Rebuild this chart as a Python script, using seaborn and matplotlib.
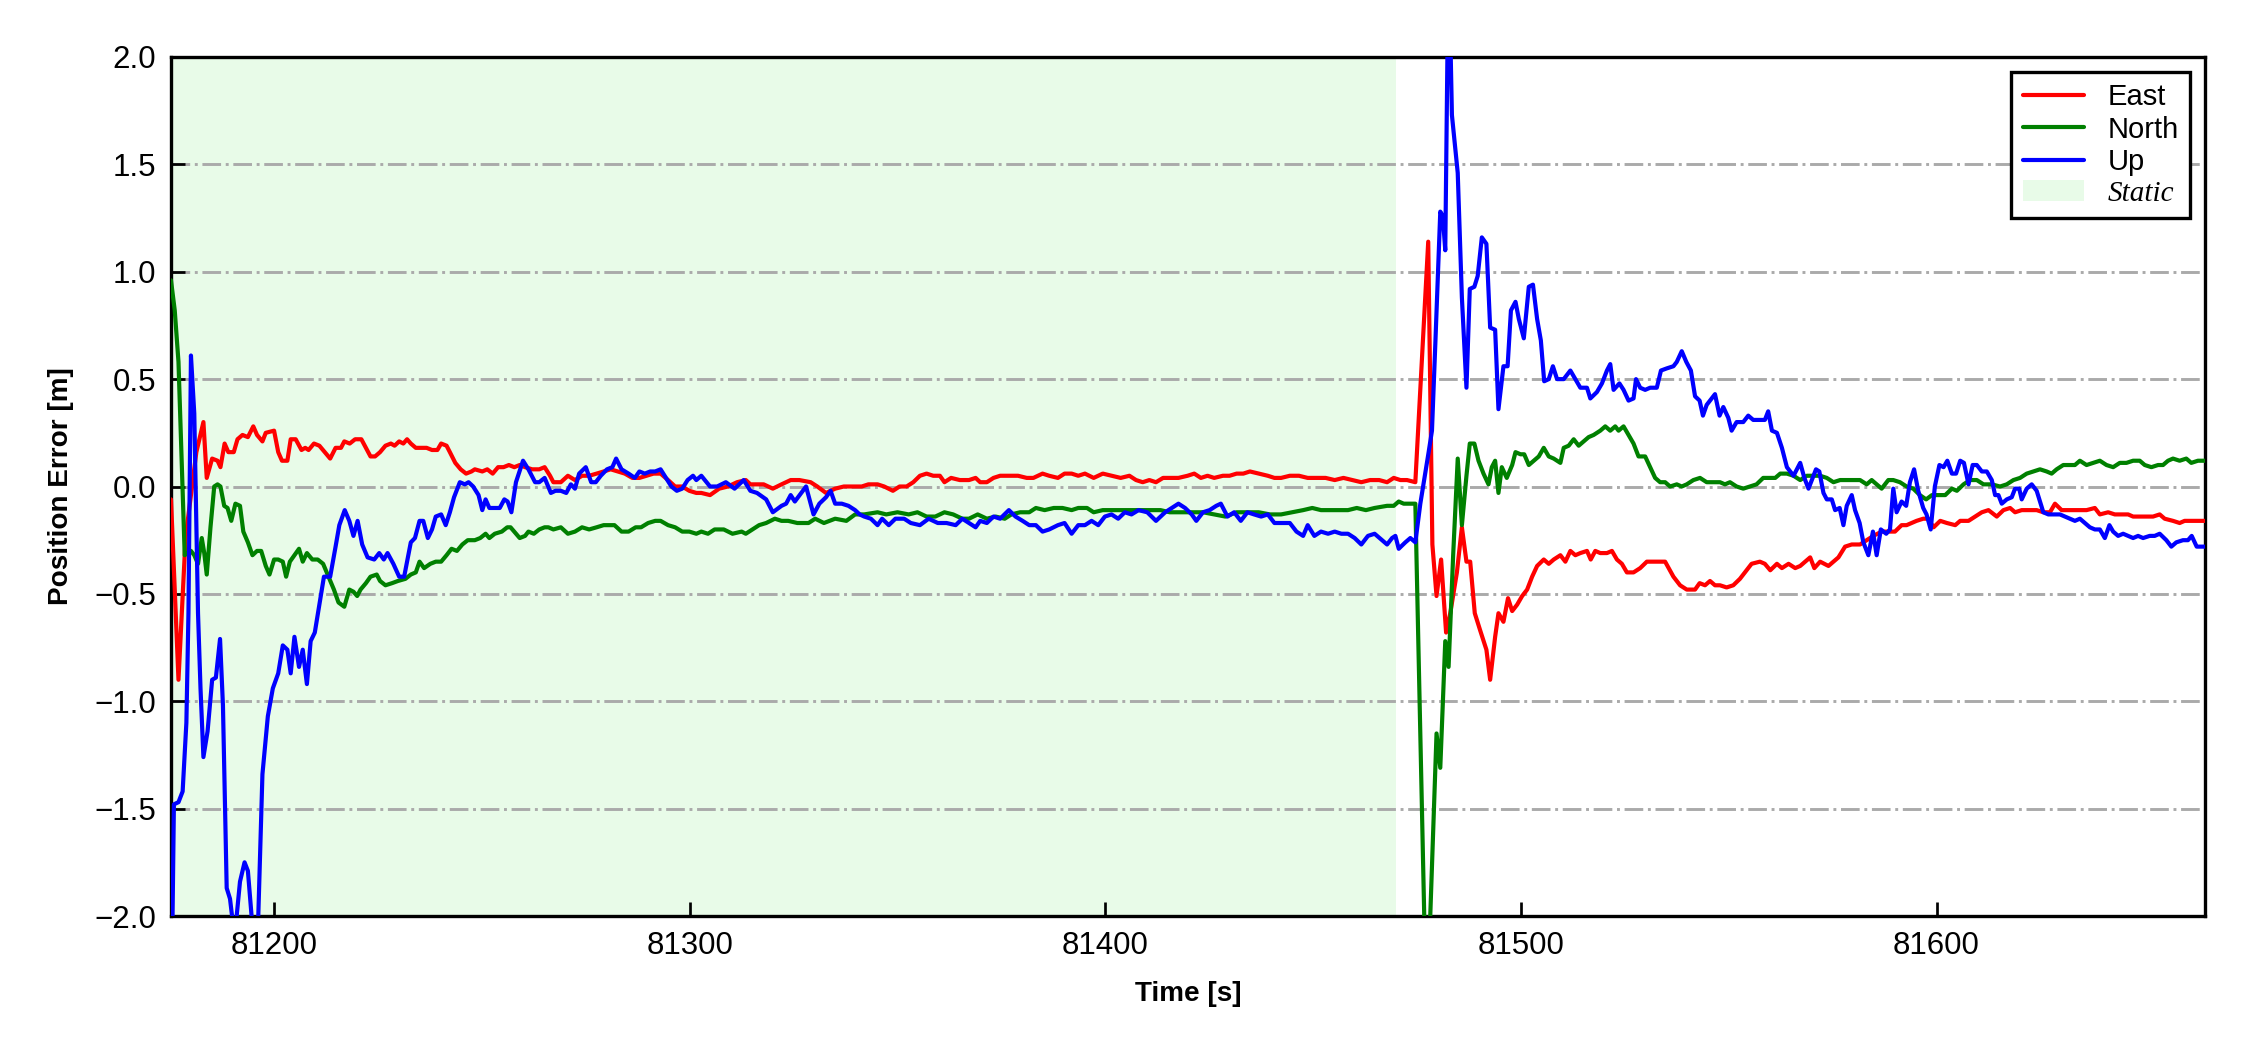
import matplotlib
matplotlib.use("Agg")
import matplotlib.pyplot as plt
import pandas as pd
import seaborn as sns
from matplotlib.lines import Line2D
from matplotlib.patches import Patch

# ---------------- data (time [s], position error [m]) ----------------
east_pts = [
    (81175.2,-0.06),(81177.0,-0.90),(81178.7,-0.24),(81181.3,0.16),(81183.0,0.30),(81183.8,0.04),(81185.1,0.13),
    (81186.4,0.12),(81187.1,0.09),(81188.1,0.20),(81189.0,0.16),(81190.3,0.16),(81191.2,0.22),(81192.4,0.24),
    (81193.7,0.23),(81195.0,0.28),(81195.9,0.24),(81197.2,0.21),(81198.0,0.25),(81200.0,0.26),(81201.0,0.16),
    (81201.9,0.12),(81203.2,0.12),(81204.0,0.22),(81205.2,0.22),(81206.6,0.17),(81207.5,0.18),(81208.3,0.17),
    (81209.6,0.20),(81210.9,0.19),(81212.2,0.16),(81213.5,0.13),(81214.8,0.18),(81216.1,0.18),(81216.9,0.21),
    (81218.2,0.20),(81219.5,0.22),(81221.0,0.22),(81222.1,0.18),(81223.2,0.14),(81224.3,0.14),(81225.5,0.16),
    (81226.8,0.19),(81228.1,0.20),(81229.0,0.19),(81230.1,0.21),(81231.1,0.20),(81232.0,0.22),(81232.9,0.20),
    (81234.1,0.18),(81235.4,0.18),(81236.7,0.18),(81238.0,0.17),(81239.3,0.17),(81240.2,0.20),(81241.5,0.19),
    (81242.3,0.16),(81243.6,0.11),(81244.9,0.08),(81246.2,0.06),(81247.5,0.07),(81248.3,0.08),(81250.1,0.07),
    (81251.3,0.08),(81252.6,0.06),(81253.9,0.09),(81255.2,0.09),(81256.5,0.10),(81257.8,0.09),(81259.1,0.10),
    (81260.4,0.09),(81262.1,0.08),(81263.8,0.08),(81265.1,0.09),(81266.4,0.05),(81267.2,0.02),(81269.0,0.02),
    (81270.7,0.05),(81272.4,0.03),(81274.1,0.05),(81275.8,0.05),(81277.6,0.06),(81279.3,0.07),(81281.0,0.08),
    (81282.7,0.07),(81284.4,0.06),(81286.2,0.04),(81287.9,0.04),(81289.6,0.05),(81291.3,0.06),(81293.0,0.06),
    (81294.8,0.03),(81296.5,0.00),(81298.2,0.00),(81299.9,-0.02),(81301.6,-0.03),
    (81302.8,-0.03),(81304.9,-0.04),(81307.1,-0.01),(81309.2,0.00),(81311.4,0.02),(81313.5,0.03),(81314.6,0.01),
    (81317.8,0.01),(81320.0,-0.01),(81322.1,0.01),(81324.3,0.03),(81326.4,0.03),(81329.1,0.02),(81330.7,0.00),
    (81332.8,-0.03),(81335.0,-0.01),(81337.1,0.00),(81339.3,0.00),(81341.4,0.00),(81343.0,0.01),(81345.2,0.01),
    (81346.8,0.00),(81348.9,-0.02),(81350.5,0.00),(81352.2,0.00),(81353.8,0.02),(81355.4,0.05),(81357.0,0.06),
    (81358.6,0.05),(81360.2,0.05),(81361.3,0.02),(81362.9,0.04),(81365.0,0.03),(81367.2,0.03),(81368.8,0.04),
    (81369.9,0.02),(81371.5,0.02),(81373.1,0.04),(81374.7,0.05),(81376.8,0.05),(81379.0,0.05),(81381.1,0.04),
    (81382.7,0.04),(81384.9,0.06),(81386.5,0.05),(81388.6,0.04),(81390.2,0.06),(81391.9,0.06),(81393.5,0.05),
    (81395.1,0.06),(81397.2,0.04),(81399.4,0.06),(81401.5,0.05),(81403.7,0.04),(81405.8,0.05),(81407.4,0.03),
    (81409.0,0.02),(81410.6,0.03),(81412.2,0.02),(81413.9,0.04),(81415.5,0.04),(81417.6,0.04),(81419.8,0.05),
    (81421.4,0.06),(81423.0,0.04),(81424.6,0.05),(81426.2,0.04),(81428.3,0.05),(81429.9,0.05),(81431.6,0.06),
    (81433.2,0.06),(81434.8,0.07),(81436.9,0.06),(81439.1,0.05),(81440.7,0.04),(81442.3,0.04),(81444.4,0.05),
    (81446.6,0.05),(81448.7,0.04),(81450.9,0.04),(81453.0,0.04),(81455.2,0.03),(81457.3,0.04),(81459.5,0.03),
    (81461.6,0.02),(81463.7,0.03),(81465.9,0.03),
    (81467.8,0.02),(81469.4,0.04),(81471.0,0.03),(81472.6,0.03),(81474.6,0.02),(81477.7,1.14),(81478.7,-0.27),
    (81479.7,-0.51),(81480.8,-0.34),(81482.0,-0.68),(81483.0,-0.59),(81484.6,-0.40),(81485.8,-0.19),(81486.9,-0.35),
    (81487.8,-0.35),(81488.9,-0.59),(81490.2,-0.67),(81491.7,-0.76),(81492.6,-0.90),(81493.8,-0.70),(81494.6,-0.59),
    (81495.8,-0.63),(81496.9,-0.52),(81497.9,-0.58),(81499.1,-0.55),(81500.3,-0.51),(81501.5,-0.48),(81502.7,-0.42),
    (81503.9,-0.37),(81505.5,-0.34),(81506.7,-0.36),(81507.9,-0.34),(81509.5,-0.32),(81510.7,-0.35),(81511.9,-0.30),
    (81513.1,-0.32),(81514.3,-0.31),(81515.9,-0.30),(81516.8,-0.34),(81517.9,-0.30),(81519.1,-0.31),(81520.7,-0.31),
    (81521.9,-0.30),(81523.1,-0.34),(81524.3,-0.36),(81525.5,-0.40),(81527.1,-0.40),(81528.7,-0.38),(81530.3,-0.35),
    (81531.9,-0.35),(81534.7,-0.35),(81536.7,-0.42),(81538.3,-0.46),(81539.9,-0.48),(81541.9,-0.48),(81543.0,-0.45),
    (81544.3,-0.46),(81545.5,-0.44),(81546.7,-0.46),(81547.9,-0.46),(81549.5,-0.47),(81551.1,-0.46),(81552.7,-0.43),
    (81554.3,-0.39),(81555.5,-0.36),(81557.5,-0.35),(81558.7,-0.36),(81560.0,-0.39),(81561.6,-0.36),(81562.8,-0.38),
    (81564.4,-0.36),(81566.0,-0.38),
    (81567.2,-0.37),(81569.6,-0.33),(81570.6,-0.38),(81572.0,-0.35),(81574.0,-0.37),(81575.2,-0.35),(81576.4,-0.33),
    (81578.0,-0.28),(81579.6,-0.27),(81581.6,-0.27),(81583.2,-0.25),(81584.8,-0.23),(81586.8,-0.21),(81588.4,-0.21),
    (81590.0,-0.21),(81591.6,-0.18),(81592.8,-0.18),(81594.0,-0.17),(81595.2,-0.16),(81596.8,-0.15),(81598.0,-0.15),
    (81599.3,-0.19),(81600.9,-0.16),(81602.5,-0.17),(81604.5,-0.18),(81605.7,-0.16),(81607.7,-0.16),(81609.3,-0.14),
    (81610.9,-0.12),(81612.5,-0.11),(81614.5,-0.14),(81616.1,-0.11),(81617.7,-0.10),(81618.9,-0.12),(81620.5,-0.11),
    (81622.1,-0.11),(81624.1,-0.11),(81625.7,-0.12),(81627.3,-0.12),(81628.5,-0.08),(81630.1,-0.11),(81632.1,-0.11),
    (81634.1,-0.11),(81636.1,-0.11),(81638.1,-0.10),(81639.3,-0.13),(81641.3,-0.12),(81642.9,-0.13),(81644.5,-0.13),
    (81646.1,-0.13),(81647.3,-0.14),(81648.9,-0.14),(81650.5,-0.14),(81652.1,-0.14),(81653.7,-0.13),(81654.9,-0.15),
    (81656.9,-0.16),(81658.5,-0.17),(81659.7,-0.16),(81661.8,-0.16),(81663.0,-0.16),(81664.6,-0.16),
]

north_pts = [
    (81175.2,0.96),(81176.1,0.82),(81177.0,0.58),(81177.8,0.10),(81178.5,-0.32),(81179.1,-0.31),(81180.0,-0.30),
    (81180.8,-0.32),(81181.7,-0.36),(81182.6,-0.24),(81183.2,-0.31),(81183.8,-0.41),(81184.7,-0.19),(81185.6,0.00),
    (81186.4,0.01),(81187.1,0.00),(81188.0,-0.09),(81188.8,-0.10),(81189.7,-0.16),(81190.7,-0.08),(81191.8,-0.09),
    (81192.6,-0.21),(81193.7,-0.26),(81194.8,-0.32),(81195.9,-0.30),(81196.9,-0.30),(81198.0,-0.37),(81198.9,-0.41),
    (81200.0,-0.34),(81201.0,-0.34),(81202.1,-0.35),(81202.9,-0.42),(81203.8,-0.35),(81204.9,-0.32),(81206.0,-0.29),
    (81206.9,-0.35),(81207.9,-0.31),(81209.2,-0.34),(81210.5,-0.34),(81211.8,-0.36),(81213.1,-0.42),(81214.4,-0.48),
    (81215.5,-0.54),(81216.9,-0.56),(81218.1,-0.48),(81219.1,-0.49),(81220.0,-0.51),(81220.8,-0.48),(81222.1,-0.45),
    (81223.2,-0.42),(81224.7,-0.41),(81225.5,-0.44),(81226.8,-0.46),(81228.4,-0.45),(81229.8,-0.44),(81231.6,-0.43),
    (81232.9,-0.41),(81234.1,-0.40),(81235.0,-0.35),(81236.1,-0.38),(81237.6,-0.36),(81238.9,-0.35),(81240.2,-0.35),
    (81241.5,-0.32),(81242.7,-0.29),(81244.0,-0.30),(81245.3,-0.27),(81246.6,-0.25),(81248.3,-0.25),(81249.6,-0.24),
    (81250.9,-0.22),(81251.8,-0.24),(81253.1,-0.22),(81254.8,-0.21),(81256.1,-0.19),(81256.9,-0.19),(81258.2,-0.22),
    (81259.1,-0.24),(81260.4,-0.23),(81261.2,-0.21),(81262.5,-0.22),(81263.8,-0.20),(81265.1,-0.19),(81266.0,-0.19),
    (81267.2,-0.20),(81269.0,-0.19),(81270.7,-0.22),(81272.4,-0.21),(81274.1,-0.19),(81275.8,-0.20),(81277.6,-0.19),
    (81279.3,-0.18),(81280.6,-0.18),(81281.9,-0.18),(81283.6,-0.21),(81285.3,-0.21),(81287.0,-0.19),(81288.3,-0.19),
    (81290.0,-0.17),(81291.7,-0.16),(81293.0,-0.16),(81294.8,-0.18),(81296.5,-0.19),(81298.2,-0.21),(81299.9,-0.21),
    (81301.6,-0.22),
    (81302.8,-0.21),(81304.4,-0.22),(81306.0,-0.20),(81308.2,-0.20),(81310.3,-0.22),(81312.5,-0.21),(81313.5,-0.22),
    (81315.1,-0.20),(81316.7,-0.18),(81318.4,-0.17),(81320.5,-0.15),(81322.1,-0.16),(81323.7,-0.16),(81325.9,-0.17),
    (81328.6,-0.17),(81330.2,-0.15),(81332.3,-0.17),(81335.0,-0.15),(81337.7,-0.16),(81339.8,-0.13),(81342.0,-0.13),
    (81345.2,-0.12),(81347.3,-0.13),(81350.0,-0.12),(81352.7,-0.13),(81354.8,-0.12),(81357.0,-0.14),(81359.1,-0.14),
    (81361.3,-0.12),(81363.4,-0.13),(81365.6,-0.15),(81367.2,-0.15),(81369.3,-0.13),(81371.5,-0.15),(81373.6,-0.14),
    (81375.8,-0.15),(81377.4,-0.13),(81379.5,-0.12),(81381.7,-0.12),(81383.3,-0.10),(81385.4,-0.11),(81387.6,-0.10),
    (81389.7,-0.10),(81391.9,-0.11),(81393.5,-0.10),(81395.6,-0.10),(81397.2,-0.12),(81399.4,-0.11),(81401.5,-0.11),
    (81404.2,-0.11),(81406.3,-0.11),(81409.0,-0.11),(81411.2,-0.11),(81413.3,-0.11),(81415.5,-0.12),(81418.1,-0.12),
    (81420.8,-0.12),(81423.5,-0.12),(81426.2,-0.13),(81428.9,-0.14),(81431.6,-0.12),(81434.2,-0.12),(81436.9,-0.12),
    (81439.6,-0.13),(81442.3,-0.13),(81445.0,-0.12),(81447.6,-0.11),(81449.8,-0.10),(81451.9,-0.11),(81454.1,-0.11),
    (81456.2,-0.11),(81458.4,-0.11),(81460.5,-0.10),(81462.7,-0.11),(81464.8,-0.10),
    (81467.8,-0.09),(81469.4,-0.09),(81470.6,-0.07),(81471.8,-0.08),(81474.6,-0.08),(81477.3,-2.50),(81479.7,-1.15),
    (81480.6,-1.31),(81481.8,-0.72),(81482.6,-0.84),(81483.7,-0.32),(81484.8,0.13),(81485.8,-0.18),(81486.9,0.05),
    (81487.7,0.20),(81488.8,0.20),(81489.8,0.12),(81491.0,0.06),(81492.2,0.01),(81493.0,0.09),(81493.8,0.12),
    (81494.6,-0.03),(81495.4,0.09),(81496.6,0.04),(81497.9,0.10),(81498.7,0.16),(81499.9,0.15),(81500.8,0.15),
    (81501.9,0.10),(81503.1,0.12),(81504.3,0.14),(81505.5,0.18),(81506.7,0.14),(81507.9,0.13),(81509.5,0.11),
    (81510.3,0.18),(81511.5,0.19),(81512.7,0.22),(81513.9,0.19),(81515.1,0.21),(81516.3,0.23),(81517.5,0.24),
    (81519.1,0.26),(81520.3,0.28),(81521.5,0.26),(81522.7,0.28),(81523.5,0.26),(81524.7,0.28),(81525.9,0.24),
    (81527.1,0.20),(81528.3,0.14),(81529.9,0.14),(81531.1,0.09),(81532.3,0.04),(81533.5,0.02),(81534.7,0.02),
    (81535.9,0.00),(81537.5,0.01),(81538.7,0.00),(81539.9,0.01),(81541.5,0.03),(81543.1,0.04),(81544.7,0.02),
    (81546.3,0.02),(81547.9,0.02),(81549.1,0.01),(81550.3,0.02),(81551.9,0.00),(81553.5,-0.01),(81555.1,0.00),
    (81556.7,0.01),(81558.3,0.04),(81560.0,0.04),(81561.2,0.04),(81562.4,0.06),(81564.0,0.06),(81565.6,0.05),
    (81567.2,0.03),(81568.8,0.05),(81570.4,0.05),(81572.0,0.05),(81573.6,0.04),(81575.2,0.02),(81576.8,0.03),
    (81578.4,0.03),(81580.0,0.03),(81581.6,0.03),(81583.2,0.01),(81584.4,0.03),(81585.6,0.01),(81586.8,-0.01),
    (81588.4,0.03),(81589.6,0.03),(81591.2,0.02),(81592.8,0.00),(81594.4,-0.01),(81596.0,-0.04),(81597.5,-0.06),
    (81598.9,-0.04),(81600.5,-0.04),(81602.1,-0.04),(81603.7,-0.01),(81604.9,-0.02),(81606.5,0.01),(81608.1,0.03),
    (81609.7,0.03),(81611.3,0.01),(81613.3,0.01),(81615.3,0.00),(81616.9,0.01),(81618.5,0.03),(81620.1,0.04),
    (81621.7,0.06),(81623.3,0.07),(81624.9,0.08),(81626.5,0.07),(81627.7,0.06),(81628.9,0.08),(81630.5,0.10),
    (81632.1,0.10),(81633.3,0.10),(81634.5,0.12),(81636.1,0.10),(81637.7,0.11),(81639.3,0.12),(81640.9,0.10),
    (81642.5,0.09),(81644.1,0.11),(81645.7,0.11),(81647.3,0.12),(81648.9,0.12),(81650.1,0.10),(81651.7,0.09),
    (81653.3,0.10),(81654.5,0.10),(81655.7,0.12),(81656.9,0.13),(81658.5,0.12),(81660.1,0.13),(81661.3,0.11),
    (81662.9,0.12),(81664.6,0.12),
]

up_pts = [
    (81175.2,-2.60),(81175.9,-1.48),(81177.0,-1.47),(81178.0,-1.42),(81178.9,-1.10),(81179.4,-0.59),(81180.0,0.61),
    (81180.8,0.34),(81181.7,-0.59),(81182.3,-0.94),(81183.0,-1.26),(81184.0,-1.14),(81185.1,-0.90),(81186.0,-0.89),
    (81187.0,-0.71),(81187.7,-1.02),(81188.6,-1.87),(81189.4,-1.92),(81190.5,-2.10),(81191.8,-1.84),(81192.9,-1.75),
    (81193.7,-1.79),(81194.8,-2.05),(81195.9,-2.20),(81197.2,-1.34),(81198.5,-1.07),(81199.7,-0.94),(81201.0,-0.87),
    (81202.1,-0.74),(81203.2,-0.76),(81204.0,-0.87),(81204.9,-0.70),(81206.0,-0.84),(81206.9,-0.76),(81207.9,-0.92),
    (81208.8,-0.72),(81209.8,-0.68),(81210.9,-0.55),(81212.0,-0.42),(81213.5,-0.42),(81214.8,-0.28),(81215.7,-0.18),
    (81217.0,-0.11),(81218.1,-0.16),(81219.1,-0.23),(81220.1,-0.16),(81221.2,-0.27),(81222.5,-0.33),(81224.1,-0.34),
    (81225.3,-0.31),(81226.4,-0.34),(81227.3,-0.31),(81228.7,-0.36),(81230.1,-0.42),(81231.3,-0.42),(81232.9,-0.26),
    (81233.9,-0.24),(81235.0,-0.16),(81235.9,-0.16),(81237.0,-0.24),(81238.0,-0.20),(81238.9,-0.14),(81240.2,-0.13),
    (81241.3,-0.18),(81242.3,-0.12),(81243.3,-0.05),(81244.7,0.02),(81245.9,0.01),(81246.8,0.02),(81247.9,0.00),
    (81249.2,-0.04),(81250.1,-0.11),(81250.9,-0.06),(81251.8,-0.10),(81253.1,-0.10),(81254.3,-0.10),(81255.4,-0.06),
    (81256.2,-0.07),(81257.1,-0.12),(81258.2,0.02),(81259.9,0.12),(81261.2,0.08),(81262.8,0.02),(81263.8,0.02),
    (81265.1,0.04),(81266.6,-0.03),(81267.7,-0.02),(81269.0,-0.02),(81270.3,-0.03),(81271.4,0.01),(81272.4,-0.01),
    (81273.4,0.06),(81275.0,0.09),(81276.3,0.02),(81277.4,0.02),(81278.6,0.05),(81280.1,0.08),(81281.4,0.09),
    (81282.3,0.13),(81283.6,0.08),(81285.3,0.06),(81286.8,0.04),(81287.9,0.07),(81289.2,0.06),(81290.5,0.07),
    (81291.7,0.07),(81293.0,0.08),(81294.3,0.04),(81295.6,0.00),(81296.9,-0.02),(81298.2,-0.01),(81299.5,0.03),
    (81300.8,0.05),(81301.6,0.03),
    (81302.8,0.05),(81304.9,0.00),(81306.6,0.00),(81308.7,0.02),(81310.8,-0.01),(81313.0,0.03),(81314.6,-0.02),
    (81316.2,-0.03),(81318.4,-0.06),(81320.0,-0.12),(81322.1,-0.09),(81323.2,-0.08),(81324.3,-0.04),(81325.3,-0.07),
    (81328.0,0.00),(81329.8,-0.13),(81331.2,-0.08),(81332.8,-0.05),(81333.9,-0.02),(81335.0,-0.08),(81336.6,-0.08),
    (81338.2,-0.09),(81339.8,-0.11),(81340.9,-0.13),(81342.0,-0.14),(81343.6,-0.15),(81345.2,-0.18),(81346.3,-0.15),
    (81347.9,-0.18),(81349.5,-0.15),(81351.6,-0.15),(81353.2,-0.17),(81355.4,-0.18),(81357.5,-0.15),(81359.7,-0.17),
    (81361.8,-0.17),(81364.0,-0.18),(81365.6,-0.15),(81367.2,-0.17),(81368.8,-0.19),(81369.9,-0.16),(81371.5,-0.17),
    (81373.1,-0.14),(81374.7,-0.15),(81376.8,-0.11),(81378.4,-0.14),(81380.1,-0.16),(81381.7,-0.18),(81383.3,-0.18),
    (81384.9,-0.21),(81386.5,-0.20),(81388.6,-0.18),(81390.2,-0.17),(81391.9,-0.22),(81393.5,-0.18),(81395.1,-0.18),
    (81396.7,-0.16),(81398.3,-0.18),(81399.9,-0.14),(81401.5,-0.13),(81403.1,-0.15),(81404.7,-0.12),(81406.3,-0.13),
    (81408.0,-0.11),(81410.1,-0.12),(81412.2,-0.16),(81414.4,-0.12),(81416.0,-0.10),(81417.6,-0.08),(81419.2,-0.10),
    (81420.8,-0.13),(81421.9,-0.16),(81423.5,-0.12),(81425.1,-0.11),(81426.7,-0.09),(81427.8,-0.08),(81429.4,-0.14),
    (81431.0,-0.12),(81432.6,-0.16),(81434.2,-0.12),(81435.8,-0.13),(81437.5,-0.14),(81439.1,-0.13),(81440.7,-0.17),
    (81442.3,-0.17),(81444.4,-0.17),(81446.0,-0.21),(81447.6,-0.23),(81448.7,-0.18),(81450.3,-0.23),(81451.9,-0.21),
    (81453.6,-0.22),(81455.2,-0.21),(81456.8,-0.22),(81458.4,-0.22),(81460.0,-0.24),(81461.6,-0.27),(81463.2,-0.23),
    (81464.8,-0.22),
    (81467.8,-0.27),(81469.0,-0.24),(81469.8,-0.23),(81470.6,-0.29),(81472.2,-0.26),(81473.4,-0.24),(81474.6,-0.26),
    (81475.8,-0.08),(81477.8,0.16),(81478.6,0.26),(81479.4,0.66),(81480.6,1.28),(81481.2,1.26),(81481.8,1.10),
    (81482.6,2.50),(81483.4,1.73),(81484.8,1.46),(81485.8,0.88),(81486.9,0.46),(81487.7,0.92),(81488.8,0.93),
    (81489.6,0.98),(81490.6,1.16),(81491.7,1.13),(81492.6,0.74),(81493.8,0.73),(81494.6,0.36),(81495.8,0.56),
    (81496.8,0.56),(81497.6,0.82),(81498.7,0.86),(81499.5,0.78),(81500.7,0.69),(81501.9,0.93),(81502.9,0.94),
    (81503.9,0.78),(81504.8,0.68),(81505.6,0.49),(81506.7,0.50),(81507.7,0.56),(81508.7,0.50),(81510.3,0.50),
    (81511.9,0.54),(81513.1,0.50),(81514.3,0.46),(81515.9,0.46),(81516.7,0.41),(81518.3,0.44),(81519.5,0.48),
    (81520.7,0.54),(81521.5,0.57),(81522.3,0.45),(81523.7,0.48),(81524.7,0.45),(81525.9,0.40),(81527.1,0.41),
    (81527.7,0.50),(81528.7,0.46),(81529.9,0.45),(81531.1,0.46),(81532.7,0.46),(81533.7,0.54),(81535.1,0.55),
    (81536.7,0.56),(81537.5,0.58),(81538.7,0.63),(81539.8,0.58),(81540.9,0.54),(81541.9,0.42),(81543.0,0.40),
    (81543.8,0.33),(81544.7,0.38),(81545.5,0.40),(81546.7,0.43),(81547.8,0.33),(81548.7,0.37),(81549.9,0.32),
    (81550.7,0.26),(81551.9,0.30),(81553.5,0.30),(81554.7,0.33),(81555.9,0.31),(81557.5,0.31),(81558.7,0.31),
    (81559.5,0.35),(81560.4,0.26),(81561.6,0.25),(81562.8,0.18),(81564.0,0.09),(81565.6,0.05),
    (81567.2,0.11),(81568.2,0.04),(81569.2,-0.01),(81570.0,0.03),(81571.0,0.08),(81571.8,0.07),(81572.8,-0.03),
    (81573.6,-0.06),(81574.8,-0.06),(81575.6,-0.11),(81576.7,-0.10),(81577.6,-0.18),(81578.4,-0.09),(81579.6,-0.04),
    (81580.4,-0.11),(81581.5,-0.17),(81582.4,-0.26),(81583.6,-0.32),(81584.7,-0.21),(81585.6,-0.32),(81586.6,-0.20),
    (81587.9,-0.22),(81588.8,-0.20),(81589.6,-0.01),(81590.4,-0.12),(81591.6,-0.07),(81592.7,-0.09),(81593.6,0.02),
    (81594.6,0.08),(81595.6,-0.02),(81596.8,-0.10),(81597.6,-0.13),(81598.6,-0.20),(81599.6,0.00),(81600.7,0.10),
    (81601.7,0.09),(81602.6,0.12),(81603.7,0.06),(81604.7,0.06),(81605.7,0.12),(81606.6,0.11),(81607.7,0.01),
    (81608.7,0.10),(81609.7,0.10),(81610.9,0.07),(81612.1,0.07),(81613.3,0.03),(81614.1,-0.04),(81614.9,-0.04),
    (81615.7,-0.08),(81616.9,-0.06),(81618.1,-0.05),(81618.9,-0.01),(81619.9,-0.01),(81620.5,-0.06),(81621.7,-0.01),
    (81622.9,0.01),(81624.1,-0.02),(81624.9,-0.07),(81625.7,-0.12),(81626.9,-0.13),(81628.1,-0.13),(81629.7,-0.13),
    (81630.9,-0.14),(81632.1,-0.15),(81633.3,-0.16),(81634.5,-0.15),(81635.7,-0.17),(81636.9,-0.19),(81638.1,-0.20),
    (81639.3,-0.20),(81640.5,-0.24),(81641.6,-0.18),(81642.5,-0.21),(81643.7,-0.23),(81644.9,-0.22),(81646.1,-0.23),
    (81647.3,-0.24),(81648.5,-0.23),(81649.7,-0.24),(81651.3,-0.23),(81652.5,-0.23),(81653.7,-0.22),(81655.3,-0.25),
    (81656.5,-0.28),(81657.7,-0.26),(81659.3,-0.25),(81660.5,-0.25),(81661.4,-0.23),(81662.6,-0.28),(81664.6,-0.28),
]

series_names = ["East", "North", "Up"]
series_colors = ["red", "green", "blue"]
static_span = (81175.2, 81470.0)
x_limits = (81175.2, 81664.6)
y_limits = (-2.0, 2.0)
x_ticks = [81200, 81300, 81400, 81500, 81600]
y_ticks = [-2.0, -1.5, -1.0, -0.5, 0.0, 0.5, 1.0, 1.5, 2.0]

# ---------------- build long table ----------------
frames = []
for name, pts in zip(series_names, [east_pts, north_pts, up_pts]):
    d = pd.DataFrame(pts, columns=["t", "v"])
    d["dir"] = name
    frames.append(d)
df = pd.concat(frames, ignore_index=True)

# ---------------- style ----------------
sns.set_theme(style="ticks")
plt.rcParams["font.family"] = ["Liberation Sans", "DejaVu Sans"]
plt.rcParams["axes.unicode_minus"] = True
plt.rcParams["text.color"] = "black"
plt.rcParams["axes.labelcolor"] = "black"
plt.rcParams["xtick.color"] = "black"
plt.rcParams["ytick.color"] = "black"

fig = plt.figure(figsize=(7.5, 3.5), dpi=300)
W, H = 2250, 1050
ax = fig.add_axes([171 / W, 1 - 916 / H, (2205 - 171) / W, (916 - 57) / H])

ax.axvspan(static_span[0], static_span[1], color="lightgreen", alpha=0.2, lw=0, zorder=0)

sns.lineplot(data=df, x="t", y="v", hue="dir", hue_order=series_names,
             palette=dict(zip(series_names, series_colors)),
             estimator=None, sort=False, linewidth=1.0, ax=ax, legend=False, zorder=3)

ax.set_xlim(*x_limits)
ax.set_ylim(*y_limits)
ax.set_xticks(x_ticks)
ax.set_xticklabels([str(t) for t in x_ticks])
ax.set_yticks(y_ticks)

ax.yaxis.grid(True, linestyle="-.", color="#aaaaaa", linewidth=0.7, zorder=1)
ax.xaxis.grid(False)

for s in ax.spines.values():
    s.set_visible(True)
    s.set_color("black")
    s.set_linewidth(0.8)

ax.tick_params(axis="both", direction="in", length=3.4, width=0.65, labelsize=7.5,
               colors="black", labelcolor="black", top=False, right=False, pad=3.5)

ax.set_xlabel("Time [s]", fontsize=6.7, fontweight="bold", labelpad=5, color="black")
ax.set_ylabel("Position Error [m]", fontsize=6.7, fontweight="bold", labelpad=5, color="black")

handles = [Line2D([0], [0], color=c, lw=1.0) for c in series_colors]
handles.append(Patch(facecolor="lightgreen", alpha=0.2, edgecolor="none"))
leg = ax.legend(handles, series_names + ["Static"], loc="upper right", fontsize=7,
                frameon=True, fancybox=False, framealpha=1, edgecolor="black",
                labelspacing=0.15, handlelength=2.1, handletextpad=0.8,
                borderpad=0.4, borderaxespad=0.5, labelcolor="black")
leg.get_frame().set_linewidth(0.8)
texts = leg.get_texts()
texts[3].set_fontfamily(["Liberation Serif", "DejaVu Serif"])
texts[3].set_fontstyle("italic")

fig.savefig("out.png", dpi=300, facecolor="white")
